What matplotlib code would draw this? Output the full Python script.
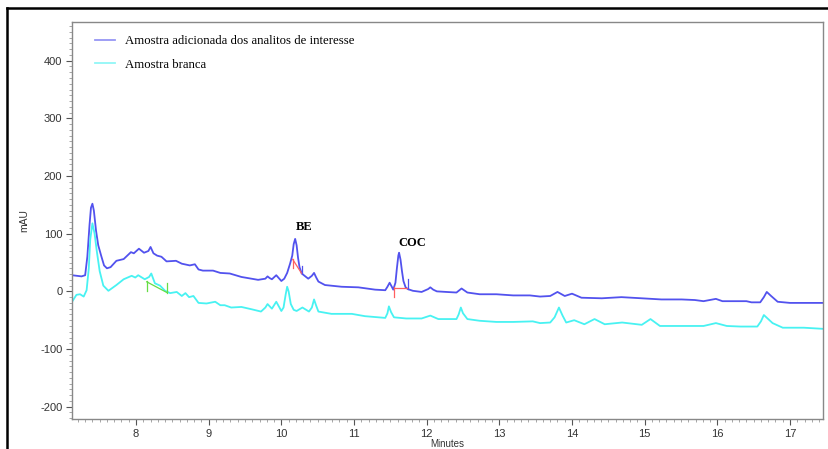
import numpy as np
import matplotlib.pyplot as plt
from matplotlib.ticker import MultipleLocator

plt.rcParams['axes.unicode_minus'] = False

# amostra adicionada (azul)
blue_t = [7.12, 7.25, 7.30, 7.33, 7.36, 7.38, 7.40, 7.42, 7.45, 7.48, 7.52, 7.56,
          7.60, 7.65, 7.73, 7.83, 7.93, 7.97,
          8.04, 8.11, 8.17, 8.20, 8.24, 8.29, 8.35, 8.42, 8.55, 8.63, 8.74, 8.81, 8.86,
          8.92, 9.06, 9.16, 9.29, 9.45, 9.68, 9.78, 9.81, 9.84, 9.87, 9.93, 10.00, 10.04,
          10.08, 10.12, 10.15, 10.17, 10.19, 10.21, 10.23, 10.25, 10.28, 10.33, 10.37,
          10.42, 10.45, 10.48, 10.51, 10.60, 10.83, 11.06,
          11.29, 11.43, 11.46, 11.49, 11.52, 11.54, 11.57, 11.59, 11.61, 11.62, 11.64,
          11.66, 11.68, 11.71, 11.74, 11.81, 11.93,
          12.02, 12.05, 12.09, 12.14, 12.27, 12.41, 12.48, 12.56, 12.73, 12.96, 13.19,
          13.42, 13.56, 13.70, 13.80, 13.90, 14.00, 14.13, 14.41, 14.68, 14.96, 15.23,
          15.51, 15.69, 15.81, 15.98, 16.07, 16.40, 16.47, 16.59, 16.64, 16.68, 16.74,
          16.83, 17.00, 17.46]
blue_v = [28, 26, 28, 60, 115, 145, 152, 140, 105, 80, 62, 45,
          40, 42, 53, 56, 68, 66,
          74, 67, 70, 77, 66, 62, 60, 52, 53, 48, 45, 47, 38,
          36, 36, 32, 31, 25, 20, 22, 26, 23, 21, 28, 18, 22,
          32, 48, 62, 82, 91, 80, 58, 42, 31, 26, 22,
          27, 32, 24, 17, 11, 8, 7,
          3, 2, 8, 15, 8, 3, 15, 40, 62, 67, 55,
          35, 18, 7, 4, 1, -1,
          4, 7, 3, 0, -1, -2, 5, -2, -5, -5, -7,
          -7, -9, -8, -1, -8, -4, -11, -12, -10, -12, -14,
          -14, -15, -17, -13, -17, -17, -19, -19, -10, -1, -8,
          -18, -20, -20]

# amostra branca (ciano)
cyan_t = [7.12, 7.18, 7.23, 7.28, 7.32, 7.35, 7.37, 7.40, 7.43, 7.46, 7.50, 7.55,
          7.62, 7.73, 7.83,
          7.94, 7.99, 8.03, 8.12, 8.18, 8.21, 8.26, 8.33, 8.40, 8.47, 8.56, 8.63, 8.68,
          8.73, 8.79, 8.86, 8.97, 9.09, 9.16, 9.22, 9.31, 9.45, 9.59, 9.72, 9.78, 9.81,
          9.84, 9.87, 9.93, 10.00, 10.03, 10.06, 10.08, 10.10, 10.13, 10.17, 10.21,
          10.29, 10.38, 10.42, 10.45, 10.48, 10.51,
          10.69, 10.97, 11.15, 11.43, 11.46, 11.48, 11.51, 11.55, 11.72, 11.93, 12.05,
          12.16, 12.41, 12.44, 12.47, 12.50, 12.56, 12.73, 12.96, 13.19, 13.46, 13.56,
          13.70, 13.76, 13.82, 13.87, 13.92, 14.03,
          14.17, 14.31, 14.45, 14.69, 14.96, 15.08, 15.21, 15.69, 15.81, 15.98, 16.13,
          16.32, 16.55, 16.60, 16.64, 16.70, 16.76, 16.90, 17.19, 17.46]
cyan_v = [-18, -6, -5, -9, 2, 40, 90, 118, 100, 70, 35, 10,
          1, 11, 21,
          27, 24, 28, 21, 25, 31, 14, 10, 1, -3, -1, -8, -3,
          -10, -8, -20, -21, -18, -24, -24, -28, -27, -31, -35, -28, -22,
          -26, -30, -18, -34, -28, -5, 8, 0, -22, -32, -34,
          -28, -35, -28, -14, -25, -35,
          -39, -39, -43, -46, -38, -26, -36, -45, -47, -47, -42,
          -48, -48, -40, -28, -38, -48, -51, -53, -53, -52, -55,
          -54, -45, -28, -42, -54, -50,
          -57, -48, -57, -54, -58, -48, -60, -60, -60, -55, -60,
          -61, -61, -52, -41, -48, -55, -63, -63, -65]

labels = ["Amostra adicionada dos analitos de interesse", "Amostra branca"]
peaks = ["BE", "COC"]
peak_pos = [(10.31, 111), (11.80, 84)]

c_blue = "#5252ee"
c_cyan = "#48f2f2"

fig = plt.figure(figsize=(8.29, 4.49), dpi=100)
ax = fig.add_axes([72/829, 30/449, 751/829, 397.3/449])

ax.plot(blue_t, blue_v, color=c_blue, lw=1.3, label=labels[0])
ax.plot(cyan_t, cyan_v, color=c_cyan, lw=1.3, label=labels[1])

# marcas de integracao
ax.plot([10.156, 10.28], [55.5, 31], color="#ff6060", lw=0.9)
ax.plot([10.156, 10.156], [40, 56], color="#ff6060", lw=0.9)
ax.plot([10.28, 10.28], [31, 44], color=c_blue, lw=0.9)
ax.plot([11.55, 11.73], [5, 5], color="#ff6060", lw=0.9)
ax.plot([11.55, 11.55], [-9, 7], color="#ff6060", lw=0.9)
ax.plot([11.745, 11.745], [3.5, 21], color=c_blue, lw=0.9)
ax.plot([8.147, 8.431], [16.6, -2.4], color="#66dd44", lw=0.9)
ax.plot([8.147, 8.147], [1, 18], color="#66dd44", lw=0.9)
ax.plot([8.431, 8.431], [-2.4, 14], color="#66dd44", lw=0.9)

for name, (px, py) in zip(peaks, peak_pos):
    ax.text(px, py, name, ha="center", va="center", fontsize=9, fontweight="bold",
            family="Liberation Serif")

ax.set_xlim(7.119, 17.454)
ax.set_ylim(-221.3, 467.6)
ax.xaxis.set_major_locator(MultipleLocator(1))
ax.xaxis.set_minor_locator(MultipleLocator(0.1))
ax.yaxis.set_major_locator(MultipleLocator(100))
ax.yaxis.set_minor_locator(MultipleLocator(10))
ax.tick_params(which="major", length=4, width=0.8, color="#555555",
               labelsize=8, labelcolor="#333333", pad=3)
ax.tick_params(which="minor", length=2, width=0.6, color="#999999")
for lab in ax.get_xticklabels() + ax.get_yticklabels():
    lab.set_family("Liberation Sans")
for s in ax.spines.values():
    s.set_color("#888888")
    s.set_linewidth(1.0)

ax.set_xlabel("Minutes", fontsize=7, color="#333333", family="Liberation Sans", labelpad=0)
ax.set_ylabel("mAU", fontsize=7.5, color="#333333", family="Liberation Sans", labelpad=8)

leg = ax.legend(loc="upper left", frameon=False, handlelength=1.6, handletextpad=0.8,
                prop={"family": "Liberation Serif", "size": 9.2}, labelspacing=0.9,
                bbox_to_anchor=(0.015, 0.995))
for h in leg.get_lines():
    h.set_alpha(0.6)

# moldura do documento
fig.add_artist(plt.Line2D([7/829, 1], [1 - 8/449, 1 - 8/449], color="black", lw=1.8))
fig.add_artist(plt.Line2D([7/829, 7/829], [0, 1 - 8/449], color="black", lw=1.8))

fig.savefig("out.png", dpi=100)
